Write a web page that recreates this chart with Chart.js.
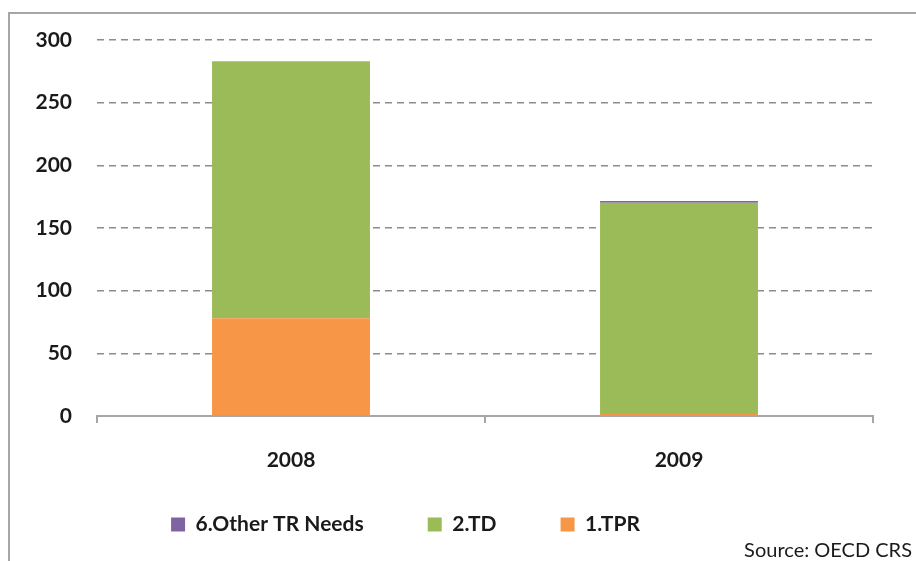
<!DOCTYPE html>
<html>
<head>
<meta charset="utf-8">
<script src="https://cdn.jsdelivr.net/npm/chart.js@4"></script>
<style>
  html, body { margin: 0; padding: 0; background: #fff; }
  #wrap { position: relative; width: 916px; height: 561px; overflow: hidden; }
  #frame {
    position: absolute; left: 8px; top: 12px; width: 920px; height: 560px;
    border-left: 2px solid #a6a6a6; border-top: 2px solid #a6a6a6;
  }
  #chart { position: absolute; left: 0; top: 0; }
  #source {
    position: absolute; right: 4px; bottom: 0px;
    font: 20px Lato, "Open Sans", sans-serif; color: #1a1a1a;
  }
</style>
</head>
<body>
<div id="wrap">
  <div id="frame"></div>
  <canvas id="chart" width="916" height="561"></canvas>
  <div id="source">Source: OECD CRS</div>
</div>
<script>
const years = ["2008", "2009"];
const tpr = [78, 1.5];        // 1.TPR
const td = [205, 168.7];      // 2.TD
const otherNeeds = [0, 1.3];  // 6.Other TR Needs
const yTicks = [0, 50, 100, 150, 200, 250, 300];

const font = "Lato, 'Open Sans', sans-serif";
const textColor = "#1a1a1a";

// legend sits left of centre and a little higher than the layout puts it
const legendShift = {
  id: "legendShift",
  afterLayout(chart) {
    const lg = chart.legend;
    lg.left -= 31;
    lg.right -= 31;
    lg.top -= 23;
    lg.bottom -= 23;
  }
};

const ctx = document.getElementById("chart").getContext("2d");

new Chart(ctx, {
  type: "bar",
  data: {
    labels: years,
    datasets: [
      { label: "1.TPR", data: tpr, backgroundColor: "#F79646" },
      { label: "2.TD", data: td, backgroundColor: "#9BBB59" },
      { label: "6.Other TR Needs", data: otherNeeds, backgroundColor: "#8064A2" }
    ]
  },
  plugins: [legendShift],
  options: {
    responsive: false,
    animation: false,
    layout: { padding: { top: 40, right: 43, bottom: 0, left: 0 } },
    datasets: {
      bar: { categoryPercentage: 1, barPercentage: 0.407 }
    },
    plugins: {
      tooltip: { enabled: false },
      legend: {
        position: "bottom",
        reverse: true,
        maxHeight: 88,
        labels: {
          font: { family: font, size: 21, weight: "bold" },
          color: textColor,
          boxWidth: 14,
          boxHeight: 14,
          padding: 64
        }
      }
    },
    scales: {
      x: {
        stacked: true,
        grid: {
          offset: true,
          drawOnChartArea: false,
          tickLength: 7,
          color: "#a6a6a6",
          lineWidth: 2
        },
        border: { color: "#a6a6a6", width: 2 },
        ticks: {
          padding: 25,
          maxRotation: 0,
          color: textColor,
          font: { family: font, size: 21, weight: "bold" }
        },
        afterFit: scale => { scale.height = 57; }
      },
      y: {
        stacked: true,
        min: 0,
        max: 300,
        afterBuildTicks: scale => { scale.ticks = yTicks.map(v => ({ value: v })); },
        grid: {
          drawTicks: false,
          color: c => c.tick.value === 0 ? "transparent" : "#8c8c8c",
          lineWidth: 1.5
        },
        border: { display: false, dash: [7, 5] },
        ticks: {
          padding: 25,
          color: textColor,
          font: { family: font, size: 21, weight: "bold" }
        },
        afterFit: scale => { scale.width = 97; }
      }
    }
  }
});
</script>
</body>
</html>
